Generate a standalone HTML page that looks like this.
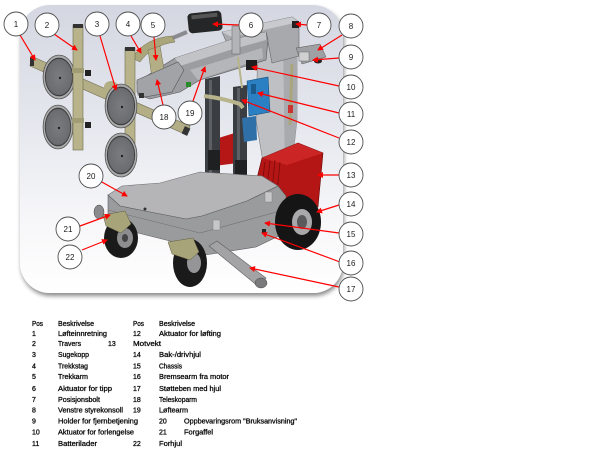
<!DOCTYPE html>
<html><head><meta charset="utf-8">
<style>
html,body{margin:0;padding:0;background:#fff;width:600px;height:450px;overflow:hidden}
svg{display:block}
.c{fill:#fff;stroke:#505050;stroke-width:0.9}
.n{font-family:"Liberation Sans",sans-serif;font-size:8px;fill:#1a1a1a;text-anchor:middle}
.t{font-family:"Liberation Sans",sans-serif;font-size:7px;fill:#000;stroke:#111;stroke-width:0.3}
.r{stroke:#f00;stroke-width:1.2;fill:none}
</style></head>
<body>
<svg width="600" height="450" viewBox="0 0 600 450" xmlns="http://www.w3.org/2000/svg">
<defs>
<linearGradient id="bg" x1="0" y1="0" x2="0" y2="1">
<stop offset="0" stop-color="#d4d7e1"/>
<stop offset="0.4" stop-color="#e5e7ee"/>
<stop offset="0.75" stop-color="#f7f7f9"/>
<stop offset="1" stop-color="#ffffff"/>
</linearGradient>
<filter id="sh" x="-10%" y="-10%" width="120%" height="120%">
<feDropShadow dx="1" dy="3" stdDeviation="2" flood-color="#000" flood-opacity="0.45"/>
</filter>
<marker id="a" markerWidth="6" markerHeight="6" refX="5" refY="3" orient="auto" markerUnits="userSpaceOnUse">
<path d="M0,0 L6,3 L0,6z" fill="#f00"/>
</marker>
<radialGradient id="disc" cx="0.5" cy="0.5" r="0.5">
<stop offset="0" stop-color="#7a7c7f"/>
<stop offset="0.8" stop-color="#6a6c6f"/>
<stop offset="0.86" stop-color="#2e2f31"/>
<stop offset="0.9" stop-color="#b9b9b9"/>
<stop offset="1" stop-color="#8a8a8a"/>
</radialGradient>
</defs>

<!-- panel -->
<rect x="20" y="5" width="323" height="288" rx="30" ry="30" fill="url(#bg)" filter="url(#sh)"/>

<!-- back right column -->
<polygon points="258,40 297,30 297,120 291,174 266,180 256,120" fill="#bfc0c4" stroke="#7a7a7e" stroke-width="0.6"/>
<polygon points="283,40 297,30 297,120 291,174 285,174" fill="#a9aaae"/>
<!-- top frame -->
<polygon points="222,32 292,17 299,22 299,56 272,63 268,42 230,50" fill="#a8a9ad" stroke="#66676b" stroke-width="0.6"/>
<polygon points="222,32 292,17 299,22 232,37" fill="#c9cacd"/>
<rect x="292" y="21" width="7" height="7" fill="#222"/>
<!-- handle 8/9 -->
<polygon points="296,48 320,44 326,57 302,64" fill="#9fa0a4" stroke="#555" stroke-width="0.5"/>
<ellipse cx="318" cy="61" rx="4" ry="2.5" fill="#222"/>
<rect x="299" y="52" width="10" height="9" fill="#d0d0d0" stroke="#555" stroke-width="0.4"/>
<line x1="292" y1="64" x2="290" y2="125" stroke="#a9a57d" stroke-width="3"/>
<rect x="288" y="105" width="5" height="8" fill="#c33"/>

<!-- main arm -->
<polygon points="137,82 175,58 230,40 266,32 268,40 266,60 200,80 180,92 150,99 138,95" fill="#9c9da1" stroke="#55565a" stroke-width="0.6"/>
<polygon points="175,58 230,40 266,32 266,40 230,50 180,66" fill="#c2c3c6"/>
<polygon points="190,70 262,48 263,58 198,80" fill="#b5b6b9"/>
<line x1="163" y1="42" x2="187" y2="32" stroke="#8a8b8f" stroke-width="4"/>
<!-- black actuator 6 -->
<rect x="188" y="12" width="34" height="20" rx="4" fill="#252628" transform="rotate(-6 205 22)"/>
<rect x="192" y="14" width="26" height="4" fill="#555" transform="rotate(-6 205 22)"/>
<rect x="232" y="26" width="8" height="28" fill="#b3b4b7" stroke="#666" stroke-width="0.5"/>
<rect x="246" y="60" width="11" height="10" fill="#1e1e1e"/>
<rect x="186" y="82" width="5" height="5" fill="#2a8a2a"/>

<!-- khaki arch 4/5 -->
<path d="M132,58 Q145,38 172,36 L175,42 Q152,45 140,62 Z" fill="#aaa67c" stroke="#6e6b4e" stroke-width="0.5"/>
<polygon points="148,50 160,46 165,75 152,78" fill="#b3ae86" stroke="#6e6b4e" stroke-width="0.5"/>

<!-- suction assembly -->
<polygon points="31,56 190,126 187,135 30,66" fill="#b3ae86" stroke="#6e6b4e" stroke-width="0.6"/>
<rect x="30" y="57" width="4" height="9" fill="#333"/>
<rect x="183" y="127" width="6" height="8" fill="#333" transform="rotate(24 186 131)"/>
<!-- disc A, B -->
<ellipse cx="59" cy="77" rx="16" ry="22" fill="url(#disc)" stroke="#444" stroke-width="0.6"/>
<circle cx="60" cy="78" r="1.2" fill="#222"/>
<ellipse cx="58" cy="127" rx="15" ry="22" fill="url(#disc)" stroke="#444" stroke-width="0.6"/>
<circle cx="59" cy="128" r="1.2" fill="#222"/>
<!-- vertical bar 2 -->
<rect x="73" y="25" width="10" height="125" fill="#b8b38a" stroke="#6e6b4e" stroke-width="0.6"/>
<rect x="73" y="24" width="10" height="4" fill="#333"/>
<rect x="72" y="68" width="12" height="5" fill="#a09c74"/>
<rect x="72" y="118" width="12" height="5" fill="#a09c74"/>
<rect x="85" y="70" width="6" height="6" fill="#222"/>
<rect x="85" y="122" width="6" height="6" fill="#222"/>
<!-- second vertical bar -->
<rect x="125" y="48" width="10" height="112" fill="#b8b38a" stroke="#6e6b4e" stroke-width="0.6"/>
<rect x="125" y="47" width="10" height="4" fill="#333"/>
<ellipse cx="111" cy="87" rx="7" ry="6" fill="#b3ae86"/>
<!-- disc C, D -->
<ellipse cx="121" cy="106" rx="16" ry="22" fill="url(#disc)" stroke="#444" stroke-width="0.6"/>
<circle cx="122" cy="107" r="1.2" fill="#222"/>
<ellipse cx="121" cy="155" rx="16" ry="22" fill="url(#disc)" stroke="#444" stroke-width="0.6"/>
<circle cx="122" cy="156" r="1.2" fill="#222"/>
<!-- plate 18 -->
<polygon points="137,80 178,62 184,70 172,92 145,97 137,92" fill="#a2a3a7" stroke="#55565a" stroke-width="0.6"/>
<rect x="139" y="93" width="5" height="5" fill="#333"/>

<!-- red behind columns -->
<polygon points="212,140 238,132 246,138 246,162 214,166" fill="#b51616"/>
<!-- columns -->
<polygon points="205,79 220,76 220,180 205,182" fill="#3a3d41"/>
<rect x="209" y="80" width="3" height="100" fill="#5c6064"/>
<polygon points="233,87 247,85 247,192 233,193" fill="#3a3d41"/>
<rect x="237" y="88" width="3" height="104" fill="#5c6064"/>
<rect x="208" y="150" width="12" height="20" fill="#1f2022"/>
<rect x="235" y="160" width="12" height="22" fill="#1f2022"/>
<ellipse cx="212" cy="181" rx="11" ry="3" fill="#c8c8c8" stroke="#777" stroke-width="0.4"/>
<ellipse cx="240" cy="192" rx="11" ry="3" fill="#c8c8c8" stroke="#777" stroke-width="0.4"/>
<line x1="238" y1="57" x2="242" y2="88" stroke="#b8b48c" stroke-width="2"/>
<!-- khaki handle 12 -->
<path d="M204,96 Q222,98 240,104 L243,108" stroke="#b8b48c" stroke-width="4" fill="none"/>
<!-- blue box 11 -->
<polygon points="247,81 268,77 270,112 249,116" fill="#2a80c2" stroke="#174f7a" stroke-width="0.6"/>
<rect x="251" y="84" width="5" height="10" fill="#1a5a8c"/>
<polygon points="242,118 256,116 257,140 244,142" fill="#3070a8"/>

<!-- red counterweight 13 -->
<polygon points="262,158 298,143 323,153 318,207 275,200 257,178" fill="#b41515" stroke="#6a0808" stroke-width="0.6"/>
<polygon points="262,158 298,143 323,153 287,165" fill="#cc2525"/>
<line x1="265" y1="162" x2="262" y2="185" stroke="#7a0a0a" stroke-width="0.8"/>
<line x1="270" y1="161" x2="267" y2="188" stroke="#7a0a0a" stroke-width="0.8"/>
<line x1="275" y1="160" x2="272" y2="190" stroke="#7a0a0a" stroke-width="0.8"/>
<line x1="280" y1="162" x2="277" y2="193" stroke="#7a0a0a" stroke-width="0.8"/>

<!-- chassis -->
<polygon points="108,195 122,186 160,183 200,172 262,176 278,186 247,201 202,216 186,219 150,212 120,206" fill="#b5b5b7" stroke="#6f6f72" stroke-width="0.6"/>
<polygon points="108,195 120,206 150,212 186,219 202,216 247,201 278,186 286,196 285,233 256,247 205,255 182,244 130,231 108,221" fill="#9a9b9d" stroke="#5d5d60" stroke-width="0.6"/>
<line x1="108" y1="210" x2="200" y2="233" stroke="#6f6f72" stroke-width="0.6"/>
<line x1="200" y1="233" x2="284" y2="210" stroke="#6f6f72" stroke-width="0.6"/>
<rect x="265" y="192" width="7" height="10" fill="#c7c7c9" stroke="#777" stroke-width="0.4"/>
<rect x="213" y="220" width="7" height="10" fill="#c7c7c9" stroke="#777" stroke-width="0.4"/>
<rect x="262" y="229" width="4" height="5" fill="#222"/>
<circle cx="145" cy="209" r="1.5" fill="#333"/>

<!-- leg 17 -->
<polygon points="209,246 217,241 266,278 259,287" fill="#a3a3a5" stroke="#5d5d60" stroke-width="0.6"/>
<ellipse cx="261" cy="283" rx="6" ry="5" fill="#7a7a7c" stroke="#444" stroke-width="0.5"/>

<!-- front left wheel 22 -->
<ellipse cx="99" cy="212" rx="5" ry="7" fill="#8a8a8c" stroke="#444" stroke-width="0.5"/>
<ellipse cx="121" cy="238" rx="17" ry="20" fill="#1a1a1a"/>
<ellipse cx="125" cy="238" rx="8" ry="10" fill="#8d8d8f"/>
<ellipse cx="125" cy="238" rx="3" ry="4" fill="#444"/>
<polygon points="103,215 125,211 131,224 121,233 106,226" fill="#a8a47a" stroke="#5e5b40" stroke-width="0.5"/>
<!-- front middle wheel -->
<ellipse cx="190" cy="263" rx="17" ry="24" fill="#1a1a1a"/>
<ellipse cx="194" cy="263" rx="7" ry="10" fill="#959597"/>
<polygon points="168,242 193,238 199,252 190,260 172,254" fill="#a8a47a" stroke="#5e5b40" stroke-width="0.5"/>
<!-- right big wheel 14 -->
<ellipse cx="298" cy="222" rx="23" ry="28" fill="#151515"/>
<ellipse cx="302" cy="222" rx="10" ry="13" fill="#a9a9ab"/>
<ellipse cx="302" cy="222" rx="5" ry="7" fill="#5a5a5c"/>

<!-- red leader lines -->
<g class="r" marker-end="url(#a)">
<line x1="20" y1="35" x2="35" y2="60"/>
<line x1="54" y1="34" x2="77" y2="50"/>
<line x1="100" y1="36" x2="116" y2="90"/>
<line x1="131" y1="36" x2="141" y2="53"/>
<line x1="154" y1="37" x2="156" y2="60"/>
<line x1="239" y1="25" x2="213" y2="24"/>
<line x1="307" y1="25" x2="296" y2="24"/>
<line x1="342" y1="35" x2="318" y2="50"/>
<line x1="339" y1="58" x2="313" y2="60"/>
<line x1="339" y1="86" x2="252" y2="67"/>
<line x1="339" y1="113" x2="258" y2="93"/>
<line x1="339" y1="138" x2="242" y2="100"/>
<line x1="339" y1="175" x2="318" y2="175"/>
<line x1="339" y1="205" x2="317" y2="212"/>
<line x1="339" y1="233" x2="265" y2="223"/>
<line x1="340" y1="262" x2="262" y2="233"/>
<line x1="339" y1="287" x2="250" y2="268"/>
<line x1="163" y1="105" x2="157" y2="80"/>
<line x1="193" y1="101" x2="205" y2="67"/>
<line x1="100" y1="181" x2="127" y2="196"/>
<line x1="80" y1="226" x2="110" y2="215"/>
<line x1="82" y1="250" x2="107" y2="240"/>
</g>

<!-- callout circles -->
<g>
<circle class="c" cx="16" cy="24" r="12"/><text class="n" x="16" y="27">1</text>
<circle class="c" cx="47" cy="25" r="12"/><text class="n" x="47" y="28">2</text>
<circle class="c" cx="97" cy="24" r="12"/><text class="n" x="97" y="27">3</text>
<circle class="c" cx="128" cy="24" r="12"/><text class="n" x="128" y="27">4</text>
<circle class="c" cx="153" cy="25" r="12"/><text class="n" x="153" y="28">5</text>
<circle class="c" cx="251" cy="25" r="12"/><text class="n" x="251" y="28">6</text>
<circle class="c" cx="319" cy="25" r="12"/><text class="n" x="319" y="28">7</text>
<circle class="c" cx="351" cy="26" r="12"/><text class="n" x="351" y="29">8</text>
<circle class="c" cx="351" cy="57" r="12"/><text class="n" x="351" y="60">9</text>
<circle class="c" cx="351" cy="87" r="12"/><text class="n" x="351" y="90">10</text>
<circle class="c" cx="351" cy="114" r="12"/><text class="n" x="351" y="117">11</text>
<circle class="c" cx="351" cy="142" r="12"/><text class="n" x="351" y="145">12</text>
<circle class="c" cx="351" cy="175" r="12"/><text class="n" x="351" y="178">13</text>
<circle class="c" cx="351" cy="204" r="12"/><text class="n" x="351" y="207">14</text>
<circle class="c" cx="351" cy="234" r="12"/><text class="n" x="351" y="237">15</text>
<circle class="c" cx="351" cy="263" r="12"/><text class="n" x="351" y="266">16</text>
<circle class="c" cx="351" cy="289" r="12"/><text class="n" x="351" y="292">17</text>
<circle class="c" cx="164" cy="117" r="12"/><text class="n" x="164" y="120">18</text>
<circle class="c" cx="190" cy="113" r="12"/><text class="n" x="190" y="116">19</text>
<circle class="c" cx="91" cy="176" r="12"/><text class="n" x="91" y="179">20</text>
<circle class="c" cx="68" cy="229" r="12"/><text class="n" x="68" y="232">21</text>
<circle class="c" cx="70" cy="257" r="12"/><text class="n" x="70" y="260">22</text>
</g>

<!-- table -->
<g class="t">
<text x="32" y="326" textLength="11" lengthAdjust="spacingAndGlyphs">Pos</text>
<text x="58" y="326" textLength="36" lengthAdjust="spacingAndGlyphs">Beskrivelse</text>
<text x="133" y="326" textLength="11" lengthAdjust="spacingAndGlyphs">Pos</text>
<text x="159" y="326" textLength="36" lengthAdjust="spacingAndGlyphs">Beskrivelse</text>

<text x="32" y="336">1</text>
<text x="58" y="336" textLength="49" lengthAdjust="spacingAndGlyphs">Løfteinnretning</text>
<text x="133" y="336">12</text>
<text x="159" y="336" textLength="62" lengthAdjust="spacingAndGlyphs">Aktuator for løfting</text>

<text x="32" y="346">2</text>
<text x="58" y="346" textLength="23" lengthAdjust="spacingAndGlyphs">Travers</text>
<text x="108" y="346">13</text>
<text x="133" y="346" textLength="28" lengthAdjust="spacingAndGlyphs">Motvekt</text>

<text x="32" y="357">3</text>
<text x="58" y="357" textLength="31" lengthAdjust="spacingAndGlyphs">Sugekopp</text>
<text x="133" y="357">14</text>
<text x="159" y="357" textLength="42" lengthAdjust="spacingAndGlyphs">Bak-/drivhjul</text>

<text x="32" y="368.5">4</text>
<text x="58" y="368.5" textLength="30" lengthAdjust="spacingAndGlyphs">Trekkstag</text>
<text x="133" y="368.5">15</text>
<text x="159" y="368.5" textLength="23" lengthAdjust="spacingAndGlyphs">Chassis</text>

<text x="32" y="379">5</text>
<text x="58" y="379" textLength="30" lengthAdjust="spacingAndGlyphs">Trekkarm</text>
<text x="133" y="379">16</text>
<text x="159" y="379" textLength="70" lengthAdjust="spacingAndGlyphs">Bremsearm fra motor</text>

<text x="32" y="391">6</text>
<text x="58" y="391" textLength="54" lengthAdjust="spacingAndGlyphs">Aktuator for tipp</text>
<text x="133" y="391">17</text>
<text x="159" y="391" textLength="62" lengthAdjust="spacingAndGlyphs">Støtteben med hjul</text>

<text x="32" y="402">7</text>
<text x="58" y="402" textLength="42" lengthAdjust="spacingAndGlyphs">Posisjonsbolt</text>
<text x="133" y="402">18</text>
<text x="159" y="402" textLength="38" lengthAdjust="spacingAndGlyphs">Teleskoparm</text>

<text x="32" y="412.5">8</text>
<text x="58" y="412.5" textLength="65" lengthAdjust="spacingAndGlyphs">Venstre styrekonsoll</text>
<text x="133" y="412.5">19</text>
<text x="159" y="412.5" textLength="29" lengthAdjust="spacingAndGlyphs">Løftearm</text>

<text x="32" y="423.5">9</text>
<text x="58" y="423.5" textLength="80" lengthAdjust="spacingAndGlyphs">Holder for fjernbetjening</text>
<text x="159" y="423.5">20</text>
<text x="184" y="423.5" textLength="113" lengthAdjust="spacingAndGlyphs">Oppbevaringsrom "Bruksanvisning"</text>

<text x="32" y="434.5">10</text>
<text x="58" y="434.5" textLength="76" lengthAdjust="spacingAndGlyphs">Aktuator for forlengelse</text>
<text x="159" y="434.5">21</text>
<text x="184" y="434.5" textLength="29" lengthAdjust="spacingAndGlyphs">Forgaffel</text>

<text x="32" y="446">11</text>
<text x="58" y="446" textLength="39" lengthAdjust="spacingAndGlyphs">Batterilader</text>
<text x="133" y="446">22</text>
<text x="159" y="446" textLength="23" lengthAdjust="spacingAndGlyphs">Forhjul</text>
</g>
</svg>
</body></html>
